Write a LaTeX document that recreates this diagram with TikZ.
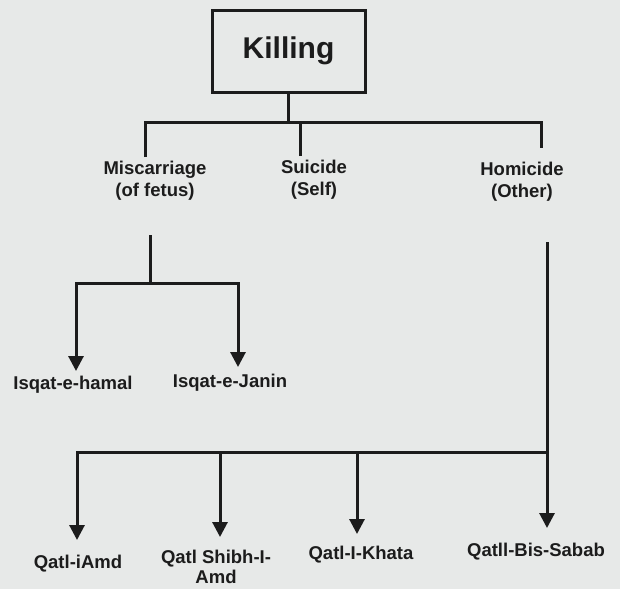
\documentclass[tikz,border=0pt]{standalone}
\usepackage{fontspec}
\setmainfont{Liberation Sans}
\usetikzlibrary{arrows.meta}
\definecolor{paper}{RGB}{231,233,232}
\definecolor{ink}{RGB}{28,28,28}

\begin{document}
\begin{tikzpicture}[x=1pt,y=-1pt,
   lbl/.style={font=\fontsize{18.5}{22}\selectfont\bfseries,text=ink,align=center,inner sep=0pt},
   wire/.style={draw=ink,line width=3pt},
   down/.style={wire,-{Triangle[length=15pt,width=15pt]}}]
\fill [paper] (0,0) rectangle (620,589);
\useasboundingbox (0,0) rectangle (620,589);

% root
\node [draw=ink,line width=3pt,minimum width=153pt,minimum height=82pt,
       font=\fontsize{30}{33}\selectfont\bfseries,text=ink] (kill) at (288.5,51) {Killing};

% first level
\node [lbl] (misc) at (155,181) {Miscarriage\\(of fetus)};
\node [lbl] (sui)  at (314,180) {Suicide\\(Self)};
\node [lbl] (homi) at (522,182) {Homicide\\(Other)};

% leaves
\node [lbl] (hamal) at (73,385)  {Isqat-e-hamal};
\node [lbl] (janin) at (230,383) {Isqat-e-Janin};
\node [lbl] (amd)   at (78,564)  {Qatl-iAmd};
\node [lbl,font=\fontsize{18.5}{19.5}\selectfont\bfseries] (shibh) at (216,567) {Qatl Shibh-I-\\Amd};
\node [lbl] (khata) at (361,555) {Qatl-I-Khata};
\node [lbl] (sabab) at (536,552) {Qatll-Bis-Sabab};

% joints and line ends
\coordinate (jTop) at (288.5,122);
\coordinate (dMis) at (145,157);
\coordinate (dSui) at (300,156);
\coordinate (dHom) at (541,148);
\coordinate (sMis) at (150,235);
\coordinate (jMis) at (150,283);
\coordinate (tHam) at (76,371);
\coordinate (tJan) at (238,367);
\coordinate (sHom) at (547,242);
\coordinate (jHom) at (547,452);
\coordinate (tAmd) at (77,540);
\coordinate (tShi) at (220,537);
\coordinate (tKha) at (357,534);
\coordinate (tSab) at (547,528);

\draw [wire] (kill.south) -- (jTop);
\draw [wire] (dMis) |- (jTop) -| (dHom);
\draw [wire] (dSui) -- (dSui |- jTop);

\draw [wire] (sMis) -- (jMis);
\draw [down] (jMis) -| (tHam);
\draw [down] (jMis) -| (tJan);

\draw [down] (sHom) -- (tSab);
\draw [down] (jHom) -| (tAmd);
\foreach \t in {tShi,tKha}
   \draw [down] (\t |- jHom) -- (\t);
\end{tikzpicture}
\end{document}
